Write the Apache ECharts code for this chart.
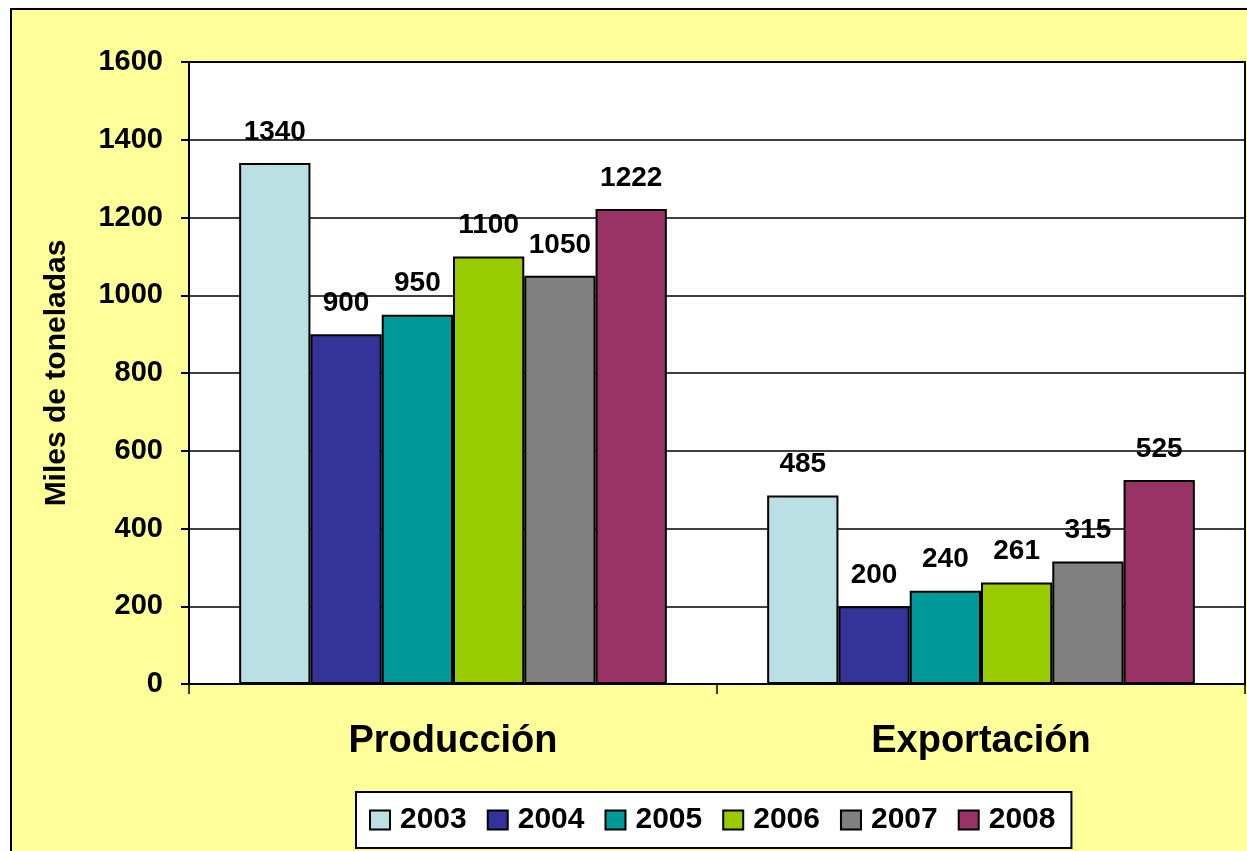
<!DOCTYPE html>
<html>
<head>
<meta charset="utf-8">
<script src="https://cdn.jsdelivr.net/npm/echarts@6/dist/echarts.min.js"></script>
<style>
html,body{margin:0;padding:0;background:#fff;}
#c{width:1247px;height:851px;}
</style>
</head>
<body>
<div id="c"></div>
<script>
const categories = ['Producción', 'Exportación'];
const years = ['2003', '2004', '2005', '2006', '2007', '2008'];
const v2003 = [1340, 485];
const v2004 = [900, 200];
const v2005 = [950, 240];
const v2006 = [1100, 261];
const v2007 = [1050, 315];
const v2008 = [1222, 525];
const yTicks = [0, 200, 400, 600, 800, 1000, 1200, 1400, 1600];
const colors = ['#BBE0E3', '#333399', '#009999', '#99CC00', '#808080', '#993366'];
const seriesValues = [v2003, v2004, v2005, v2006, v2007, v2008];

const font = 'Liberation Sans, Arial, sans-serif';
const chart = echarts.init(document.getElementById('c'));
chart.setOption({
  backgroundColor: '#ffffff',
  animation: false,
  graphic: [{
    type: 'rect', z: -10, silent: true,
    shape: {x: 11, y: 9, width: 1260, height: 870},
    style: {fill: '#FFFF99', stroke: '#000', lineWidth: 2}
  }],
  grid: {
    left: 189, top: 62, right: 2, bottom: 167,
    show: true, backgroundColor: '#ffffff', borderColor: '#000', borderWidth: 2
  },
  legend: {
    data: years,
    left: 356, top: 792,
    backgroundColor: '#ffffff',
    borderColor: '#000', borderWidth: 2,
    padding: [13, 16, 13, 13],
    itemWidth: 20, itemHeight: 19, itemGap: 20,
    icon: 'rect',
    itemStyle: {borderColor: '#000', borderWidth: 2},
    textStyle: {fontFamily: font, fontWeight: 'bold', fontSize: 30, color: '#000', padding: [0, 0, 0, 5], lineHeight: 30}
  },
  xAxis: {
    type: 'category',
    data: categories,
    axisLine: {lineStyle: {color: '#000', width: 2}},
    axisTick: {show: true, length: 10, lineStyle: {color: '#000', width: 1.5}},
    axisLabel: {fontFamily: font, fontWeight: 'bold', fontSize: 38, color: '#000', margin: 39}
  },
  yAxis: {
    type: 'value',
    min: yTicks[0], max: yTicks[yTicks.length - 1], interval: 200,
    name: 'Miles de toneladas',
    nameLocation: 'middle', nameGap: 117,
    nameTextStyle: {fontFamily: font, fontWeight: 'bold', fontSize: 30, color: '#000'},
    axisLine: {show: true, lineStyle: {color: '#000', width: 2}},
    axisTick: {show: true, length: 8, lineStyle: {color: '#000', width: 2}},
    axisLabel: {fontFamily: font, fontWeight: 'bold', fontSize: 29, color: '#000', margin: 26,
      formatter: v => String(v)},
    splitLine: {lineStyle: {color: '#000', width: 1.5}}
  },
  series: years.map((y, i) => ({
    name: y,
    type: 'bar',
    data: seriesValues[i],
    barGap: '0%',
    barCategoryGap: '19%',
    itemStyle: {color: colors[i], borderColor: '#000', borderWidth: 2},
    label: {
      show: true, position: 'top', distance: 17,
      fontFamily: font, fontWeight: 'bold', fontSize: 28, color: '#000'
    }
  }))
});
</script>
</body>
</html>
